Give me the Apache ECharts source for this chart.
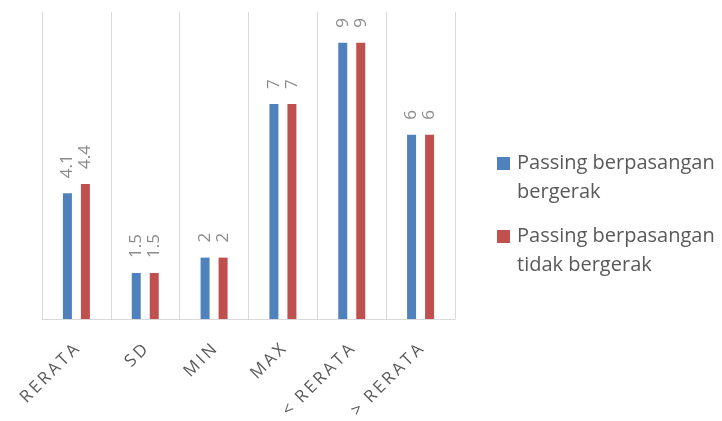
<!DOCTYPE html>
<html>
<head>
<meta charset="utf-8">
<script src="https://cdn.jsdelivr.net/npm/echarts@6/dist/echarts.min.js"></script>
<style>
  html, body { margin: 0; padding: 0; background: #fff; }
  #main { width: 722px; height: 421px; }
</style>
</head>
<body>
<div id="main"></div>
<script>
var categories = ['RERATA', 'SD', 'MIN', 'MAX', '< RERATA', '> RERATA'];
var seriesNames = ['Passing berpasangan bergerak', 'Passing berpasangan tidak bergerak'];
var bergerak = [4.1, 1.5, 2, 7, 9, 6];
var tidakBergerak = [4.4, 1.5, 2, 7, 9, 6];

// legend text is wrapped after the second word, like the original
var legendLines = {
  'Passing berpasangan bergerak': 'Passing berpasangan\nbergerak',
  'Passing berpasangan tidak bergerak': 'Passing berpasangan\ntidak bergerak'
};

var font = '"Open Sans", "Noto Sans", sans-serif';

// square sits at the top of a tall box so it lines up with the first text line
var legendIcon = 'path://M0,8h13v13h-13z M0,0h0.01v0.01h-0.01z M15,58h0.01v0.01h-0.01z';

var myChart = echarts.init(document.getElementById('main'), null, { renderer: 'canvas' });

var valueLabel = {
  show: true,
  position: 'top',
  rotate: 90,
  align: 'left',
  verticalAlign: 'middle',
  distance: 15,
  color: '#8c8c8c',
  fontSize: 17,
  fontFamily: font
};

// spaced-out letters, words kept a bit further apart
function spaced(v) {
  return v.split(' ').map(function(w) { return w.split('').join('\u2009'); }).join('  ');
}

var option = {
  animation: false,
  backgroundColor: '#fff',
  grid: { left: 42, right: 267, top: 12, bottom: 102, outerBoundsMode: 'none' },
  legend: {
    orient: 'vertical',
    left: 497,
    top: 149,
    padding: 0,
    itemGap: 15,
    itemWidth: 15,
    itemHeight: 58,
    icon: legendIcon,
    formatter: function(name) { return legendLines[name] || name; },
    textStyle: { color: '#595959', fontSize: 20, lineHeight: 29, fontFamily: font },
    data: seriesNames
  },
  xAxis: {
    type: 'category',
    data: categories,
    boundaryGap: true,
    axisLine: { lineStyle: { color: '#d9d9d9', width: 1 } },
    axisTick: { show: false },
    splitLine: { show: true, lineStyle: { color: '#d9d9d9', width: 1 } },
    axisLabel: {
      rotate: 45,
      margin: 28,
      interval: 0,
      color: '#595959',
      fontSize: 17,
      fontFamily: font,
      formatter: spaced
    }
  },
  yAxis: {
    type: 'value',
    min: 0,
    max: 10,
    show: false
  },
  series: [
    {
      name: seriesNames[0],
      type: 'bar',
      data: bergerak,
      barWidth: 9,
      barGap: '100%',
      itemStyle: { color: '#4f81bd' },
      label: valueLabel
    },
    {
      name: seriesNames[1],
      type: 'bar',
      data: tidakBergerak,
      barWidth: 9,
      itemStyle: { color: '#c0504d' },
      label: valueLabel
    }
  ]
};

myChart.setOption(option);
</script>
</body>
</html>
